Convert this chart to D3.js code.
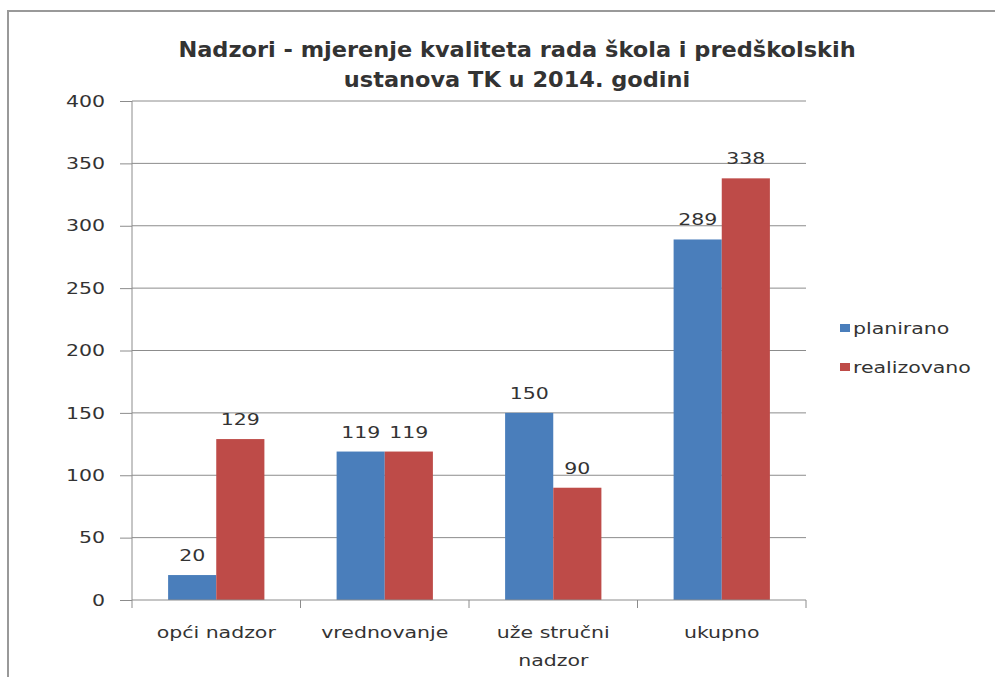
<!DOCTYPE html>
<html>
<head>
<meta charset="utf-8">
<script src="https://cdn.jsdelivr.net/npm/d3@7"></script>
<style>
  body { margin: 0; background: #fff; }
  svg text { font-family: "DejaVu Sans", sans-serif; fill: #333; }
</style>
</head>
<body>
<div id="chart"></div>
<script>
var categories = [["opći nadzor"], ["vrednovanje"], ["uže stručni", "nadzor"], ["ukupno"]];
var seriesNames = ["planirano", "realizovano"];
var planirano = [20, 119, 150, 289];
var realizovano = [129, 119, 90, 338];
var yTicks = [0, 50, 100, 150, 200, 250, 300, 350, 400];
var titleLines = ["Nadzori - mjerenje kvaliteta rada škola i predškolskih", "ustanova TK u 2014. godini"];
var colors = ["#4a7ebb", "#be4b48"];

var width = 995, height = 677;
var margin = {left: 132, right: 189, top: 101, bottom: 77};
// the original picture is stretched sideways, so text is widened too
var sx = 1.28;

var svg = d3.select("#chart").append("svg")
    .attr("width", width).attr("height", height);

// outer frame
svg.append("rect")
    .attr("x", 8).attr("y", 11)
    .attr("width", width + 10).attr("height", height + 10)
    .attr("fill", "none").attr("stroke", "#999").attr("stroke-width", 2);

var x = d3.scaleBand()
    .domain(d3.range(categories.length))
    .range([margin.left, width - margin.right]);

var xInner = d3.scaleBand()
    .domain(d3.range(seriesNames.length))
    .range([0, x.bandwidth()])
    .paddingOuter(0.75);

var y = d3.scaleLinear()
    .domain([0, 400])
    .range([height - margin.bottom, margin.top]);

function place(px, py) {
    return "translate(" + px + "," + py + ") scale(" + sx + ",1)";
}

// gridlines
svg.append("g").selectAll("line")
    .data(yTicks.slice(1))
    .enter().append("line")
    .attr("x1", margin.left).attr("x2", width - margin.right)
    .attr("y1", function(d) { return y(d); })
    .attr("y2", function(d) { return y(d); })
    .attr("stroke", "#8c8c8c").attr("stroke-width", 1);

// y axis
var yAxis = svg.append("g")
    .attr("transform", "translate(" + margin.left + ",0)")
    .call(d3.axisLeft(y).tickValues(yTicks).tickSize(12).tickPadding(15));
yAxis.selectAll("text")
    .style("font-size", "16px")
    .attr("fill", "#333")
    .attr("x", -27 / sx)
    .attr("transform", "scale(" + sx + ",1)");
yAxis.selectAll("line, path").attr("stroke", "#8c8c8c");
yAxis.select(".domain").attr("d", "M0," + y(400) + "V" + y(0));

// bars
var data = categories.map(function(c, i) { return [planirano[i], realizovano[i]]; });

var groups = svg.append("g").selectAll("g")
    .data(data)
    .enter().append("g")
    .attr("transform", function(d, i) { return "translate(" + x(i) + ",0)"; });

groups.selectAll("rect")
    .data(function(d) { return d; })
    .enter().append("rect")
    .attr("x", function(d, j) { return xInner(j); })
    .attr("width", xInner.bandwidth())
    .attr("y", function(d) { return y(d); })
    .attr("height", function(d) { return y(0) - y(d); })
    .attr("fill", function(d, j) { return colors[j]; });

groups.selectAll("text")
    .data(function(d) { return d; })
    .enter().append("text")
    .attr("transform", function(d, j) { return place(xInner(j) + xInner.bandwidth() / 2, y(d) - 14); })
    .attr("text-anchor", "middle")
    .style("font-size", "16px")
    .text(function(d) { return d; });

// x axis
var xAxisG = svg.append("g")
    .attr("transform", "translate(0," + y(0) + ")");
xAxisG.append("line")
    .attr("x1", margin.left).attr("x2", width - margin.right)
    .attr("stroke", "#8c8c8c");
xAxisG.selectAll(".tick")
    .data(d3.range(categories.length + 1))
    .enter().append("line")
    .attr("x1", function(i) { return margin.left + i * x.step(); })
    .attr("x2", function(i) { return margin.left + i * x.step(); })
    .attr("y1", 0).attr("y2", 8)
    .attr("stroke", "#8c8c8c");

xAxisG.selectAll(".lab")
    .data(categories)
    .enter().append("text")
    .attr("text-anchor", "middle")
    .style("font-size", "16px")
    .attr("transform", function(d, i) { return place(x(i) + x.bandwidth() / 2, 38); })
    .each(function(d) {
        var t = d3.select(this);
        d.forEach(function(line, k) {
            t.append("tspan").attr("x", 0).attr("dy", k === 0 ? 0 : 28).text(line);
        });
    });

// title
svg.append("g").selectAll("text")
    .data(titleLines)
    .enter().append("text")
    .attr("transform", function(d, i) { return "translate(517," + (57 + i * 30) + ") scale(1.07,1)"; })
    .attr("text-anchor", "middle")
    .style("font-size", "21px")
    .style("font-weight", "bold")
    .text(function(d) { return d; });

// legend
var legend = svg.append("g").selectAll("g")
    .data(seriesNames)
    .enter().append("g")
    .attr("transform", function(d, i) { return "translate(840," + (328 + i * 39) + ")"; });
legend.append("rect")
    .attr("x", 0).attr("y", -4)
    .attr("width", 10).attr("height", 8)
    .attr("fill", function(d, i) { return colors[i]; });
legend.append("text")
    .attr("transform", place(13, 6))
    .style("font-size", "16px")
    .text(function(d) { return d; });
</script>
</body>
</html>
